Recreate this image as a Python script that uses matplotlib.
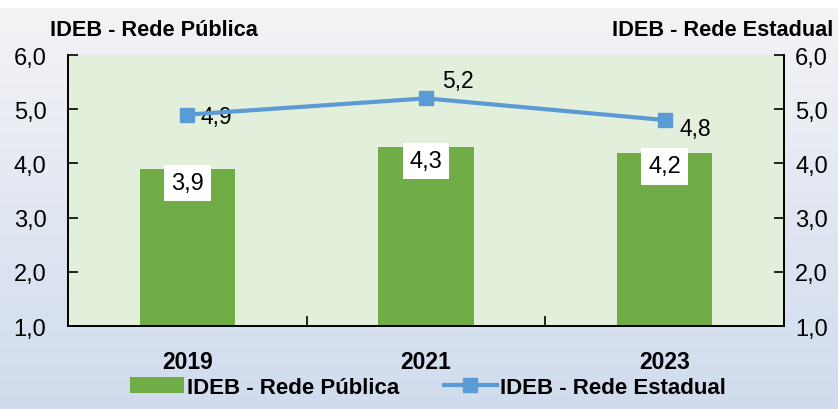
import numpy as np
import matplotlib.pyplot as plt

anos = ['2019', '2021', '2023']
publica = [3.9, 4.3, 4.2]
estadual = [4.9, 5.2, 4.8]
yticks = [1, 2, 3, 4, 5, 6]

plt.rcParams['font.family'] = ['Liberation Sans', 'DejaVu Sans']

def br(v):
    return ('%.1f' % v).replace('.', ',')

fig = plt.figure(figsize=(8.38, 4.10), dpi=100)

# fundo em degrade
bg = fig.add_axes([0, 0, 1, 1], zorder=-10)
grad = np.linspace(0, 1, 256).reshape(-1, 1)
top = np.array([0.955, 0.955, 0.965])
bot = np.array([0.815, 0.86, 0.93])
img = top + (bot - top) * grad[:, :, None]
bg.imshow(img, aspect='auto', extent=[0, 1, 0, 0.98])
bg.axhspan(0.98, 1.0, color='white')
bg.set_xlim(0, 1)
bg.set_ylim(0, 1)
bg.axis('off')

ax = fig.add_axes([0.0811, 0.2024, 0.8545, 0.661])
ax.set_facecolor('#e2efda')
x = np.arange(len(anos))
bars = ax.bar(x, publica, width=0.4, bottom=0, color='#70ad47', zorder=2,
              label='IDEB - Rede Pública')
ax.set_xlim(-0.5, 2.5)
ax.set_ylim(1, 6)
ax.set_yticks(yticks)
ax.set_yticklabels([br(v) for v in yticks], fontsize=17)
ax.set_xticks(x)
ax.set_xticklabels(anos, fontsize=16.5, fontweight='bold')
ax.set_xticks([0.5, 1.5], minor=True)
ax.tick_params(axis='x', which='major', length=0, pad=17)
ax.tick_params(axis='x', which='minor', direction='in', length=7, width=1.2)
ax.tick_params(axis='y', direction='in', length=7, width=1.2, pad=15.5)
ax.spines['top'].set_visible(False)
ax.spines['right'].set_visible(False)
for s in ['left', 'bottom']:
    ax.spines[s].set_linewidth(1.4)

for xi, v in zip(x, publica):
    ax.annotate(br(v), (xi, v), xytext=(0, -10), textcoords='offset points',
                ha='center', va='center', fontsize=17, zorder=5,
                bbox=dict(boxstyle='square,pad=0.3', fc='white', ec='none'))

ax2 = ax.twinx()
ax2.set_ylim(1, 6)
ax2.set_yticks(yticks)
ax2.set_yticklabels([br(v) for v in yticks], fontsize=17)
ax2.tick_params(axis='y', direction='in', length=7, width=1.2, pad=8)
ax2.spines['top'].set_visible(False)
ax2.spines['left'].set_visible(False)
ax2.spines['bottom'].set_visible(False)
ax2.spines['right'].set_linewidth(1.4)
line, = ax2.plot(x, estadual, color='#5b9bd5', lw=3, marker='s', ms=10,
                 label='IDEB - Rede Estadual', zorder=4)

offs = [(21, -1), (23, 13), (22, -6)]
for xi, v, o in zip(x, estadual, offs):
    ax2.annotate(br(v), (xi, v), xytext=o, textcoords='offset points',
                 ha='center', va='center', fontsize=16.5)

fig.text(0.06, 0.925, 'IDEB - Rede Pública', fontsize=15.7, fontweight='bold',
         va='center', ha='left')
fig.text(0.994, 0.925, 'IDEB - Rede Estadual', fontsize=15.7, fontweight='bold',
         va='center', ha='right')

fig.legend(handles=[bars, line], loc='center', bbox_to_anchor=(0.511, 0.053),
           ncol=2, frameon=False, handlelength=2.4, handletextpad=0.15,
           columnspacing=2.0, prop={'weight': 'bold', 'size': 16})

fig.savefig('out.png', dpi=100)
